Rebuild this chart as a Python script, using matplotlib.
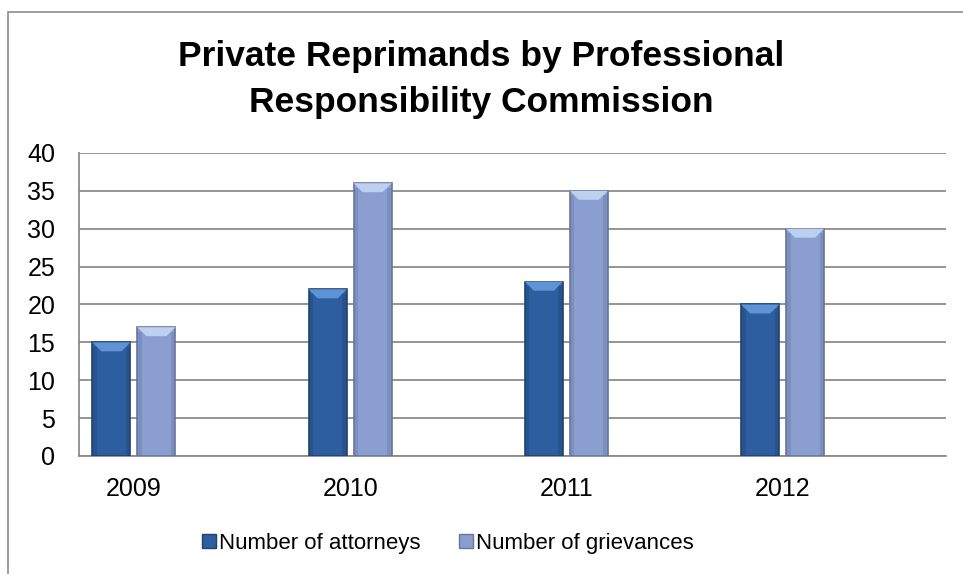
import numpy as np
import matplotlib.pyplot as plt
from matplotlib.patches import Rectangle, Polygon
from matplotlib.lines import Line2D

plt.rcParams['font.family'] = ['Liberation Sans', 'DejaVu Sans']

years = ['2009', '2010', '2011', '2012']
attorneys = [15, 22, 23, 20]
grievances = [17, 36, 35, 30]

dark_main, dark_top, dark_edge = '#2d5ea0', '#5e93d6', '#21426f'
light_main, light_top, light_edge = '#8a9fd0', '#bcd0f0', '#66769c'

fig = plt.figure(figsize=(9.63, 5.74), dpi=100)
ax = fig.add_axes([0.082, 0.2056, 0.9, 0.528])

# chart border (only top/left visible in original)
fig.patches.append(Rectangle((8 / 963, -0.1), 1.2, (574 - 12) / 574 + 0.1,
                             transform=fig.transFigure, fill=False,
                             edgecolor='#8c8c8c', linewidth=1.2))

x = np.arange(len(years))
w = 0.176
off = 0.104

ax.set_xlim(-0.254, 3.754)
ax.set_ylim(0, 40)
ax.set_yticks(range(0, 41, 5))
ax.yaxis.grid(True, color='#8c8c8c', linewidth=1.3)
ax.set_axisbelow(True)
for s in ['top', 'right']:
    ax.spines[s].set_visible(False)
ax.spines['left'].set_color('#8c8c8c')
ax.spines['bottom'].set_color('#8c8c8c')
ax.spines['left'].set_linewidth(1.3)
ax.spines['bottom'].set_linewidth(1.3)
ax.tick_params(axis='both', length=0, labelsize=18)
ax.tick_params(axis='x', pad=15)
ax.tick_params(axis='y', pad=17)
ax.set_xticks(x)
ax.set_xticklabels(years)


def bevel_bars(xs, vals, main, top, edge):
    bars = ax.bar(xs, vals, w, color=main, edgecolor=edge, linewidth=1.2, zorder=3)
    # pixels per data unit to keep bevel size fixed in screen space
    fig.canvas.draw()
    px_x = ax.transData.transform((1, 0))[0] - ax.transData.transform((0, 0))[0]
    px_y = ax.transData.transform((0, 1))[1] - ax.transData.transform((0, 0))[1]
    bx = 9 / px_x
    by = 9 / px_y
    for b in bars:
        x0, x1 = b.get_x(), b.get_x() + b.get_width()
        h = b.get_height()
        ax.add_patch(Polygon([(x0, h), (x1, h), (x1 - bx, h - by), (x0 + bx, h - by)],
                             closed=True, facecolor=top, edgecolor='none', zorder=4))
        # darker side strips
        ax.add_patch(Rectangle((x0, 0), bx * 0.5, h - by * 0.5, facecolor=edge,
                               alpha=0.35, edgecolor='none', zorder=4))
        ax.add_patch(Rectangle((x1 - bx * 0.5, 0), bx * 0.5, h - by * 0.5, facecolor=edge,
                               alpha=0.35, edgecolor='none', zorder=4))
    return bars


bevel_bars(x - off, attorneys, dark_main, dark_top, dark_edge)
bevel_bars(x + off, grievances, light_main, light_top, light_edge)

fig.text(0.5, 0.862, 'Private Reprimands by Professional\nResponsibility Commission',
         ha='center', va='center', fontsize=25.5, fontweight='bold', linespacing=1.5)

handles = [Line2D([], [], marker='s', linestyle='none', markersize=10,
                  markerfacecolor=dark_main, markeredgecolor=dark_edge),
           Line2D([], [], marker='s', linestyle='none', markersize=10,
                  markerfacecolor=light_main, markeredgecolor=light_edge)]
fig.legend(handles, ['Number of attorneys', 'Number of grievances'],
           loc='center', bbox_to_anchor=(0.464, 0.054), ncol=2, frameon=False,
           fontsize=16, handletextpad=0.05, columnspacing=1.66, handlelength=0.8)

fig.savefig('out.png', dpi=100)
